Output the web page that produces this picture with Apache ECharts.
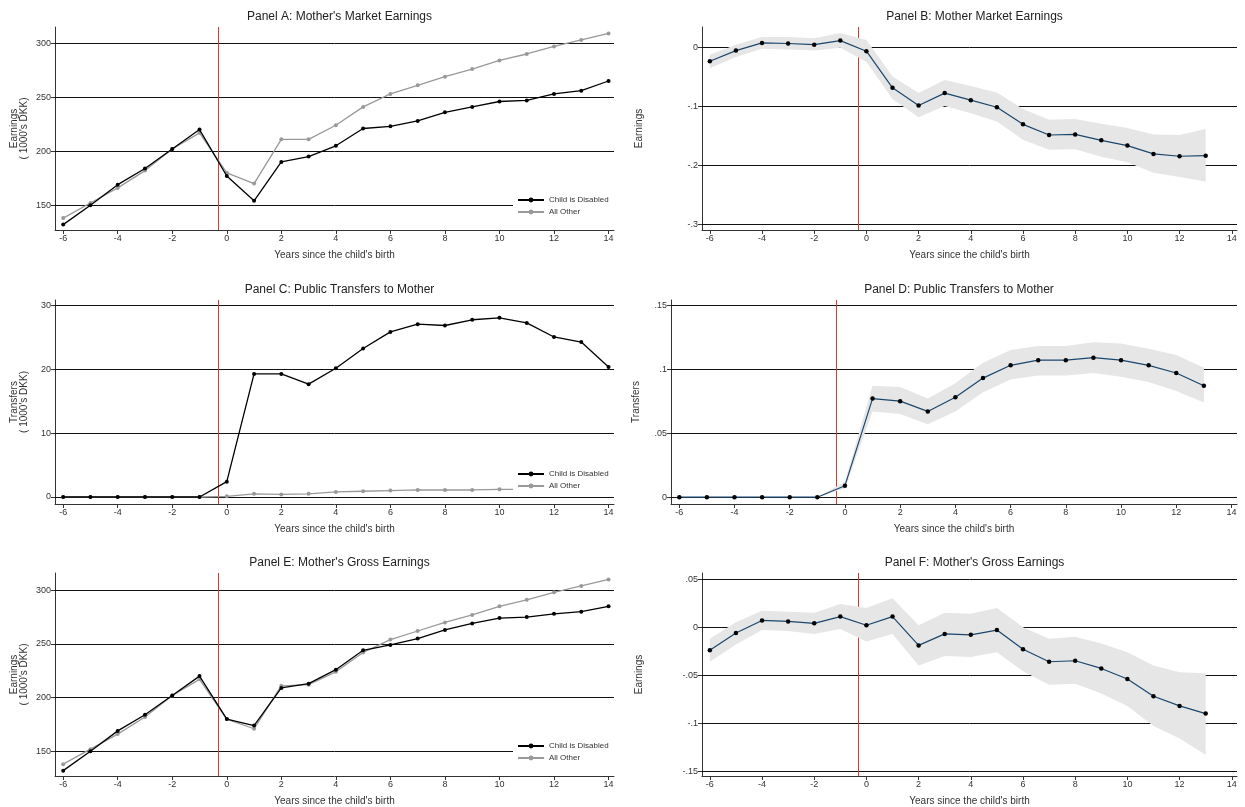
<!DOCTYPE html>
<html>
<head>
<meta charset="UTF-8">
<script src="https://cdn.jsdelivr.net/npm/echarts@6/dist/echarts.min.js"></script>
<style>html,body{margin:0;background:#fff}#c{width:1245px;height:807px}</style>
</head>
<body>
<div id="c"></div>
<script>
// years
var yearsLong = [-6,-5,-4,-3,-2,-1,0,1,2,3,4,5,6,7,8,9,10,11,12,13,14];
var yearsShort = [-6,-5,-4,-3,-2,-1,0,1,2,3,4,5,6,7,8,9,10,11,12,13];
var xTicks = [-6,-4,-2,0,2,4,6,8,10,12,14];

// Panel A
var aDisabled = [132,150,169,184,202,220,177,154,190,195,205,221,223,228,236,241,246,247,253,256,265];
var aOther = [138,152,166,182,202,217,180,170,211,211,224,241,253,261,269,276,284,290,297,303,309];
// Panel B
var bEst = [-0.024,-0.006,0.007,0.006,0.004,0.011,-0.007,-0.069,-0.099,-0.078,-0.09,-0.102,-0.131,-0.149,-0.148,-0.158,-0.167,-0.181,-0.185,-0.184];
var bHi = [-0.013,0.004,0.017,0.017,0.015,0.024,0.012,-0.05,-0.078,-0.056,-0.066,-0.077,-0.105,-0.123,-0.122,-0.13,-0.137,-0.148,-0.149,-0.139];
var bLo = [-0.036,-0.017,-0.003,-0.004,-0.006,-0.001,-0.025,-0.088,-0.119,-0.1,-0.112,-0.126,-0.157,-0.174,-0.173,-0.186,-0.195,-0.213,-0.22,-0.228];
// Panel C
var cDisabled = [0,0,0,0,0,0,2.4,19.3,19.3,17.7,20.2,23.3,25.9,27.1,26.9,27.8,28.1,27.3,25.1,24.3,20.4];
var cOther = [0,0,0,0,0,0,0.1,0.5,0.4,0.5,0.8,0.9,1.0,1.1,1.1,1.1,1.2,1.2,1.3,1.3,1.4];
// Panel D
var dEst = [0,0,0,0,0,0,0.009,0.077,0.075,0.067,0.078,0.093,0.103,0.107,0.107,0.109,0.107,0.103,0.097,0.087];
var dHi = [0,0,0,0,0,0,0.012,0.087,0.086,0.077,0.089,0.105,0.115,0.118,0.118,0.121,0.12,0.116,0.111,0.101];
var dLo = [0,0,0,0,0,0,0.007,0.067,0.065,0.057,0.067,0.082,0.092,0.095,0.095,0.097,0.094,0.09,0.083,0.074];
// Panel E
var eDisabled = [132,150,169,184,202,220,180,174,209,213,226,244,249,255,263,269,274,275,278,280,285];
var eOther = [138,152,166,182,202,217,180,171,211,212,224,242,254,262,270,277,285,291,298,304,310];
// Panel F
var fEst = [-0.024,-0.006,0.007,0.006,0.004,0.011,0.002,0.011,-0.019,-0.007,-0.008,-0.003,-0.023,-0.036,-0.035,-0.043,-0.054,-0.072,-0.082,-0.09];
var fHi = [-0.012,0.005,0.017,0.016,0.015,0.024,0.02,0.03,0.002,0.015,0.014,0.02,0.0,-0.012,-0.01,-0.017,-0.026,-0.04,-0.047,-0.048];
var fLo = [-0.036,-0.018,-0.003,-0.004,-0.007,-0.002,-0.015,-0.007,-0.04,-0.03,-0.031,-0.026,-0.046,-0.06,-0.059,-0.069,-0.082,-0.103,-0.116,-0.133];

var FONT = 'Liberation Sans';
var panels = [
  {title:"Panel A: Mother's Market Earnings", left:55, top:27, width:559, height:203, min:127, max:315, yt:[150,200,250,300], yname:"Earnings\n( 1000's DKK)", gap:26, kind:'levels', a:aDisabled, b:aOther},
  {title:"Panel B: Mother Market Earnings", left:702, top:27, width:535, height:203, min:-0.31, max:0.034, yt:[-0.3,-0.2,-0.1,0], yname:"Earnings", gap:58, kind:'est', est:bEst, hi:bHi, lo:bLo},
  {title:"Panel C: Public Transfers to Mother", left:55, top:300, width:559, height:204, min:-1.1, max:30.9, yt:[0,10,20,30], yname:"Transfers\n( 1000's DKK)", gap:26, kind:'levels', a:cDisabled, b:cOther},
  {title:"Panel D: Public Transfers to Mother", left:671, top:300, width:566, height:204, min:-0.0053, max:0.154, yt:[0,0.05,0.1,0.15], yname:"Transfers", gap:30, kind:'est', est:dEst, hi:dHi, lo:dLo},
  {title:"Panel E: Mother's Gross Earnings", left:55, top:573, width:559, height:203, min:127, max:316, yt:[150,200,250,300], yname:"Earnings\n( 1000's DKK)", gap:26, kind:'levels', a:eDisabled, b:eOther},
  {title:"Panel F: Mother's Gross Earnings", left:702, top:573, width:535, height:203, min:-0.155, max:0.0564, yt:[-0.15,-0.1,-0.05,0,0.05], yname:"Earnings", gap:58, kind:'est', est:fEst, hi:fHi, lo:fLo}
];

function stata(v) {
  var s = String(Math.round(v * 1000) / 1000);
  return s.replace(/^0\./, '.').replace(/^-0\./, '-.');
}
function pairs(xs, ys) { return ys.map(function (y, i) { return [xs[i], y]; }); }

var option = {
  backgroundColor:'#fff', animation:false,
  textStyle:{fontFamily:FONT},
  title:[], grid:[], xAxis:[], yAxis:[], series:[], legend:[]
};

panels.forEach(function (p, i) {
  option.title.push({text:p.title, left:p.left + p.width / 2, top:p.top - 21, textAlign:'center',
    textStyle:{fontFamily:FONT, fontSize:12, fontWeight:'normal', color:'#222'}});
  option.grid.push({left:p.left, top:p.top, width:p.width, height:p.height});
  option.xAxis.push({type:'value', gridIndex:i, min:-6.3, max:14.2,
    name:"Years since the child's birth", nameLocation:'middle', nameGap:20,
    nameTextStyle:{fontFamily:FONT, fontSize:10, color:'#333'},
    axisLine:{onZero:false, lineStyle:{color:'#333'}},
    axisTick:{customValues:xTicks, length:4, lineStyle:{color:'#333'}},
    axisLabel:{customValues:xTicks, fontSize:9, color:'#333', margin:4, fontFamily:FONT},
    splitLine:{show:false}});
  option.yAxis.push({type:'value', gridIndex:i, min:p.min, max:p.max,
    name:p.yname, nameLocation:'middle', nameGap:p.gap,
    nameTextStyle:{fontFamily:FONT, fontSize:10, color:'#333', lineHeight:10},
    axisLine:{show:true, onZero:false, lineStyle:{color:'#333'}},
    axisTick:{show:true, customValues:p.yt, length:4, lineStyle:{color:'#333'}},
    axisLabel:{customValues:p.yt, fontSize:9, color:'#333', margin:4, fontFamily:FONT,
      formatter:function (v) { return p.kind === 'est' ? stata(v) : String(v); }},
    splitLine:{show:false}});

  var gridLines = {silent:true, symbol:'none', label:{show:false}, z:1,
    lineStyle:{color:'#111', width:1, type:'solid'},
    data:p.yt.map(function (v) { return {yAxis:v}; }).concat([{xAxis:-0.3, lineStyle:{color:'#e8322d', width:1}}])};

  if (p.kind === 'levels') {
    option.series.push({name:'Child is Disabled', type:'line', xAxisIndex:i, yAxisIndex:i,
      data:pairs(yearsLong, p.a), symbol:'circle', symbolSize:4, z:5,
      lineStyle:{color:'#000', width:1.3}, itemStyle:{color:'#000'}, markLine:gridLines});
    option.series.push({name:'All Other', type:'line', xAxisIndex:i, yAxisIndex:i,
      data:pairs(yearsLong, p.b), symbol:'circle', symbolSize:4, z:4,
      lineStyle:{color:'#999', width:1.3}, itemStyle:{color:'#999'}});
    option.legend.push({data:['Child is Disabled','All Other'], orient:'vertical',
      left:p.left + 458, top:p.top + p.height - 36, itemWidth:26, itemHeight:6, itemGap:4,
      backgroundColor:'#fff', padding:[2,16,2,4], z:10,
      textStyle:{fontFamily:FONT, fontSize:8, color:'#333'}});
  } else {
    // confidence band as a polygon through the axis scales
    var band = yearsShort.map(function (x, k) { return [x, p.lo[k], p.hi[k]]; });
    option.series.push({type:'custom', xAxisIndex:i, yAxisIndex:i, data:band, silent:true, z:2,
      encode:{x:0, y:[1,2]},
      renderItem:function (params, api) {
        if (params.dataIndex !== 0) return null;
        var top = [], bot = [];
        band.forEach(function (d) {
          top.push(api.coord([d[0], d[2]]));
          bot.unshift(api.coord([d[0], d[1]]));
        });
        return {type:'polygon', shape:{points:top.concat(bot)}, style:{fill:'#e6e6e6', stroke:'none'}};
      },
      markLine:gridLines});
    option.series.push({type:'line', xAxisIndex:i, yAxisIndex:i, data:pairs(yearsShort, p.est),
      symbol:'circle', symbolSize:4.5, z:5,
      lineStyle:{color:'#1a476f', width:1.2}, itemStyle:{color:'#000'}});
  }
});

var chart = echarts.init(document.getElementById('c'));
chart.setOption(option);
</script>
</body>
</html>
